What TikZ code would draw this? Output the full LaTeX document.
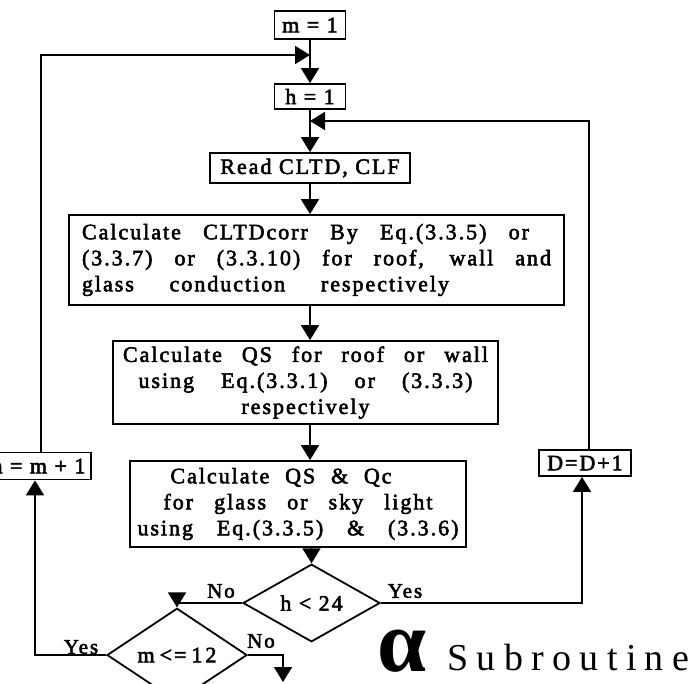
\documentclass[tikz,border=0pt]{standalone}
\usepackage{fontspec}
\setmainfont{Liberation Serif}
\newfontfamily\boxfont[LetterSpace=9,FakeBold=2.5]{Liberation Serif}
\newfontfamily\subfont[LetterSpace=22]{Liberation Serif}
\newfontfamily\alphafont{Liberation Serif}
\usetikzlibrary{arrows.meta,shapes.geometric}
\begin{document}
\begin{tikzpicture}[x=1pt,y=-1pt,
  arr/.style={line width=1.8pt,-{Triangle[length=15pt,width=18pt]}},
  box/.style={draw,line width=1.8pt,inner sep=0pt,font=\boxfont\fontsize{22}{26}\selectfont,align=center},
  dia/.style={draw,diamond,line width=1.8pt,inner sep=0pt,font=\boxfont\fontsize{22}{26}\selectfont},
  lbl/.style={inner sep=0pt,font=\boxfont\fontsize{21}{24}\selectfont}]
\clip (0,0) rectangle (698,683);
% nodes
\node[box,minimum width=71,minimum height=28] (m1) at (310,25) {m = 1};
\node[box,minimum width=71,minimum height=25] (h1) at (310,96.5) {h = 1};
\node[box,minimum width=200,minimum height=30] (read) at (310,168) {Read CLTD, CLF};
\node[box,minimum width=495,minimum height=90,align=left] (c1) at (316.5,260)
  {\makebox[447pt][s]{Calculate CLTDcorr By Eq.(3.3.5) or}\\
   \makebox[469pt][s]{(3.3.7) or (3.3.10) for roof, wall and}\\
   \makebox[367pt][s]{glass conduction respectively}};
\node[box,minimum width=385,minimum height=83] (c2) at (305.5,382.5)
  {\makebox[365pt][s]{Calculate QS for roof or wall}\\
   \makebox[334pt][s]{using Eq.(3.3.1) or (3.3.3)}\\
   respectively};
\node[box,minimum width=336,minimum height=86] (c3) at (298,504)
  {\makebox[255pt][l]{\makebox[221pt][s]{Calculate QS \& Qc}}\\
   \makebox[269pt][s]{for glass or sky light}\\
   \makebox[321pt][s]{using Eq.(3.3.5) \& (3.3.6)}};
\node[dia,minimum width=137,minimum height=49] (d1) at (311.5,603) {h < 24};
\node[dia,minimum width=140,minimum height=48] (d2) at (177,655) {m\hspace{5pt}<\hspace{2pt}=\hspace{5pt}1\hspace{3pt}2};
\node[box,minimum width=111,minimum height=27] (mm) at (35.5,466) {m = m + 1};
\node[box,minimum width=92,minimum height=26] (dd) at (585,463) {D=D+1};
% helper coordinates
\coordinate (mx) at (310,0);
\coordinate (lt) at (41,55);
\coordinate (rt) at (589,121);
\coordinate (ry) at (582,0);
\coordinate (ly) at (35,0);
\coordinate (ne) at (283,682);
% connectors
\draw[arr] (m1.south) -- (h1.north);
\draw[arr] (mm.north -| lt) -- (lt) -- (lt -| mx);
\draw[arr] (h1.south) -- (read.north);
\draw[arr] (dd.north -| rt) -- (rt) -- (rt -| mx);
\draw[arr] (read.south -| mx) -- (c1.north -| mx);
\draw[arr] (c1.south -| mx) -- (c2.north -| mx);
\draw[arr] (c2.south -| mx) -- (c3.north -| mx);
\draw[arr] (c3.south -| d1) -- (d1.north);
\draw[arr] (d1.east) -- (d1.east -| ry) -- (dd.south -| ry);
\draw[arr] (d1.west) -| (d2.north);
\draw[arr] (d2.west) -- (d2.west -| ly) -- (mm.south -| ly);
\draw[arr] (d2.east) -- (d2.east -| ne) -- (ne);
% labels
\node[lbl] (no1) at (221,591) {No};
\node[lbl] (yes1) at (405,591) {Yes};
\node[lbl] (yes2) at (81,647) {Yes};
\node[lbl] (no2) at (261,641) {No};
\node[anchor=base west,inner sep=0pt,font=\subfont\fontsize{38}{38}\selectfont] (sub) at (447,670) {Subroutine};
\node[anchor=base,inner sep=0pt,font=\alphafont\bfseries\fontsize{88}{88}\selectfont] (al) at (402,671) {α};
\end{tikzpicture}
\end{document}
